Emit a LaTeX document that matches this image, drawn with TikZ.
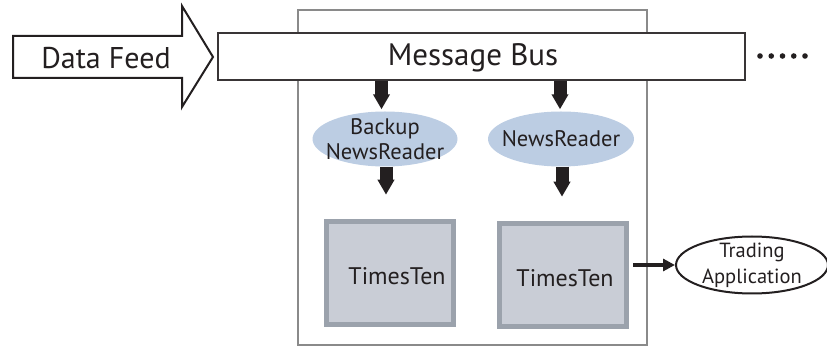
\documentclass[tikz,border=0pt]{standalone}
\usepackage{fontspec}
\setmainfont{PT Sans}
\usetikzlibrary{arrows.meta,shapes.geometric}
\definecolor{ink}{HTML}{231F20}
\definecolor{blueish}{HTML}{BCCDE3}
\definecolor{ttfill}{HTML}{C9CDD6}
\definecolor{ttline}{HTML}{9BA2AC}
\definecolor{boxgray}{HTML}{8A8A8A}
\tikzset{
  lbl/.style={text=ink, inner sep=0pt},
  bus/.style={draw=ink!90, line width=2.2pt, fill=white, minimum width=527pt, minimum height=47pt, inner sep=0pt},
  reader/.style={ellipse, fill=blueish, minimum width=145pt, minimum height=55pt, inner xsep=-20pt, inner ysep=-12pt, text=ink, align=center, font=\fontsize{22.5}{25}\selectfont},
  ttbox/.style={draw=ttline, fill=ttfill, line width=5pt, minimum width=127pt, minimum height=103pt, inner sep=0pt},
  fatarrow/.style={draw=ink, line width=13pt, -{Triangle[length=15pt,width=16pt]}},
  thinarrow/.style={draw=ink, line width=4pt, -{Triangle[length=12pt,width=12pt]}},
  app/.style={ellipse, draw=ink, line width=2pt, fill=white, minimum width=152pt, minimum height=57pt, inner xsep=-20pt, inner ysep=-12pt, text=ink, align=center, font=\fontsize{20.5}{26}\selectfont},
}
\begin{document}
\begin{tikzpicture}[x=1pt,y=-1pt]
\useasboundingbox (0,0) rectangle (827,347);
% outer gray box
\node[draw=boxgray, line width=1.5pt, minimum width=349pt, minimum height=335pt, inner sep=0pt] (outer) at (472.5,177.5) {};
% data feed arrow
\draw[draw=ink, line width=2pt, fill=white, line join=miter]
  (13,36) -- (182,36) -- (182,6) -- (213,57) -- (182,107) -- (182,78) -- (13,78) -- cycle;
\node[lbl, font=\fontsize{30}{32}\selectfont] (feed) at (106,58) {Data Feed};
% message bus
\node[bus] (bus) at (481.5,56.5) {};
\node[lbl, font=\fontsize{31}{32}\selectfont] (bustext) at (473,58) {Message Bus};
% dots
\foreach \i in {0,...,4} \fill[ink] (760+\i*11.25,56) circle (2.8pt);
% readers
\node[reader] (bnr) at (385,139) {Backup\\NewsReader};
\node[reader, minimum width=146pt] (nr) at (561,139) {NewsReader};
% timesten boxes
\node[ttbox] (tt1) at (390,273) {};
\node[ttbox] (tt2) at (563,275) {};
\node[lbl, font=\fontsize{24}{26}\selectfont] (tt1t) at ([xshift=7pt,yshift=-3pt]tt1.center) {TimesTen};
\node[lbl, font=\fontsize{24}{26}\selectfont] (tt2t) at ([xshift=2pt,yshift=-3pt]tt2.center) {TimesTen};
% trading app
\node[app] (ta) at (752,265) {Trading\\Application};
% arrows
\draw[fatarrow] ([xshift=-3.5pt]bus.south -| bnr.north) -- ([xshift=-3.5pt,yshift=2pt]bnr.north);
\draw[fatarrow] ([xshift=-1pt]bus.south -| nr.north) -- ([xshift=-1pt,yshift=2pt]nr.north);
\draw[fatarrow] ([xshift=1pt]bnr.south) -- ([xshift=1pt,yshift=-28pt]bnr.south);
\draw[fatarrow] ([xshift=1pt]nr.south) -- ([xshift=1pt,yshift=-30pt]nr.south);
\draw[thinarrow] ([xshift=4pt]tt2.east |- ta.west) -- (ta.west);
\end{tikzpicture}
\end{document}
